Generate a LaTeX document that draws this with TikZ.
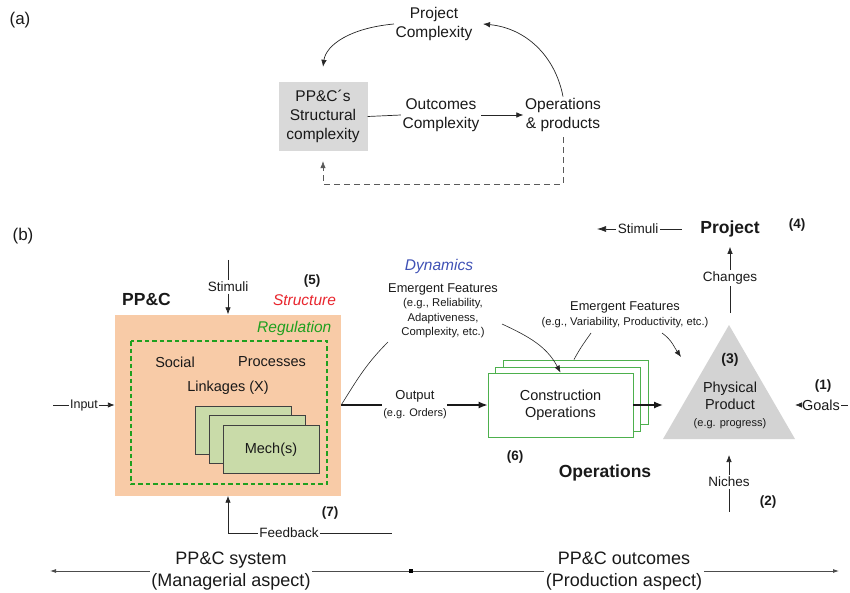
\documentclass[tikz,border=0pt]{standalone}
\usepackage{fontspec}
\setmainfont{Liberation Sans}
\usetikzlibrary{arrows.meta}
\definecolor{orangefill}{HTML}{F8CBA7}
\definecolor{mechfill}{HTML}{C9DBA9}
\definecolor{regreen}{HTML}{1FA01F}
\definecolor{opgreen}{HTML}{4DB04D}
\definecolor{trigray}{HTML}{D3D3D3}
\definecolor{boxgray}{HTML}{D9D9D9}
\definecolor{dynblue}{HTML}{3F51B5}
\definecolor{strred}{HTML}{E8262E}
\begin{document}
\begin{tikzpicture}[x=1pt,y=-1pt,
  every node/.style={inner sep=1.5pt, text=black!90},
  ln/.style={line width=0.7pt, draw=black!85},
  arr/.style={ln, -{Latex[length=7pt,width=5.5pt]}},
  thickarr/.style={line width=1.3pt, draw=black!90, -{Latex[length=9pt,width=7pt]}},
  fa/.style={font=\fontsize{15.5}{19}\selectfont, align=center},
  fl/.style={font=\fontsize{13.5}{16}\selectfont, align=center},
  fm/.style={font=\fontsize{14.5}{17}\selectfont, align=center},
  fs/.style={font=\fontsize{11.3}{14.5}\selectfont, align=center},
  fbold/.style={font=\fontsize{17.5}{21}\selectfont\bfseries},
  fnum/.style={font=\fontsize{13.5}{16}\selectfont\bfseries},
  fbot/.style={font=\fontsize{18}{22}\selectfont, align=center},
  mechbox/.style={draw=black!75, fill=mechfill, line width=0.8pt, minimum width=96pt, minimum height=48pt},
  consbox/.style={draw=opgreen, fill=white, line width=0.9pt, minimum width=145pt, minimum height=64pt},
  botln/.style={line width=0.8pt, draw=black!70},
]
\useasboundingbox (0,0) rectangle (850,593);

% ---------------- (a) ----------------
\node[font=\fontsize{17}{20}\selectfont] (alab) at (20,20) {(a)};
\node[fa] (pc) at (434,24) {Project\\Complexity};
\node[fa, fill=boxgray, minimum width=89pt, minimum height=69pt] (sc) at (323,116.5) {PP\&C´s\\Structural\\complexity};
\node[fa] (oc) at (441,115) {Outcomes\\Complexity};
\node[fa] (op) at (563,115) {Operations\\\& products};
\draw[ln] (sc.east) -- (oc.west);
\draw[arr] (oc.east) -- (op.west);
\draw[arr] (pc.west) .. controls (350,28) and (326,45) .. ([yshift=15pt]sc.north);
\draw[arr] (op.north) .. controls (555,55) and (525,28) .. ([xshift=9pt]pc.east);
\coordinate (dd) at (563,184);
\draw[arr, dashed, draw=black!65, dash pattern=on 6pt off 4pt] ([yshift=-4pt]op.south) -- (dd) -| ([yshift=-10pt]sc.south);

% ---------------- (b) ----------------
\node[font=\fontsize{17}{20}\selectfont] (blab) at (23,236) {(b)};

% PP&C system
\node[fill=orangefill, minimum width=226pt, minimum height=181pt] (ppc) at (228,405) {};
\draw[draw=regreen, line width=1.2pt, dash pattern=on 4.5pt off 3pt] (131,341) rectangle (327,484);
\node[anchor=east, text=regreen, font=\fontsize{15.5}{18}\selectfont\itshape] (regl) at (333,328) {Regulation};
\node[fm] (soc) at (175,362) {Social};
\node[fm] (proc) at (272,362) {Processes};
\node[fm] (link) at (228,388) {Linkages (X)};
\node[mechbox] (m3) at (243,430) {};
\node[mechbox] (m2) at (257,439.5) {};
\node[mechbox, fm] (m1) at (271,449.5) {Mech(s)};

\node[fbold] (ppcl) at (146.5,299) {PP\&C};
\node[fl] (stim) at (228,287) {Stimuli};
\coordinate (stimtop) at (228,260);
\draw[ln] (stimtop) -- (stim.north);
\draw[arr] (stim.south) -- (ppc.north);
\node[fnum] (n5) at (312,281) {(5)};
\node[text=strred, font=\fontsize{15.5}{18}\selectfont\itshape] (struct) at (304.5,300) {Structure};

% Input
\coordinate (inl) at (53,405);
\node[font=\fontsize{12.5}{15}\selectfont, inner sep=0.5pt] (inp) at (84,405) {Input};
\draw[ln] (inl) -- (inp.west);
\draw[arr, line width=0.9pt] (inp.east) -- (ppc.west);

% Construction operations
\node[consbox] (c3) at (575.5,392) {};
\node[consbox] (c2) at (568,399) {};
\node[consbox, fm] (cons) at (560.5,405) {Construction\\Operations};

% Output
\node[font=\fontsize{13}{15}\selectfont] (outp) at (415,396) {Output};
\node[font=\fontsize{11}{13}\selectfont] (outeg) at (415,414) {(e.g. Orders)};
\coordinate (o1) at (382,405);
\coordinate (o2) at (447,405);
\draw[line width=1.3pt, draw=black!90] (ppc.east) -- (o1);
\draw[thickarr] (o2) -- (cons.west);

% Dynamics
\node[text=dynblue, font=\fontsize{15.5}{18}\selectfont\itshape] (dyn) at (439,266) {Dynamics};
\node[font=\fontsize{12.8}{15}\selectfont] (ef1) at (443,289) {Emergent Features};
\node[fs] (ef1eg) at (443,318.5) {(e.g., Reliability,\\Adaptiveness,\\Complexity, etc.)};
\coordinate (d0) at (388,342);
\draw[ln, line width=0.6pt] (ppc.east) to[out=58, in=225] (d0);
\coordinate (d1) at (502,324);
\draw[arr, line width=0.6pt] (d1) to[out=-25, in=118] (cons.north);

% Emergent features of operations
\node[font=\fontsize{12.8}{15}\selectfont] (ef2) at (625,307) {Emergent Features};
\node[font=\fontsize{11.2}{13}\selectfont] (ef2eg) at (625,323) {(e.g., Variability, Productivity, etc.)};
\coordinate (e1) at (591,333);
\draw[ln, line width=0.6pt] (e1) to[out=235, in=62] ([xshift=-1.5pt]c3.north);
\coordinate (e2) at (662,333);
\coordinate (e2t) at (681,357);
\draw[arr, line width=0.6pt] (e2) to[out=-35, in=125] (e2t);

% Physical product triangle
\fill[trigray] (729,325) -- (795,439) -- (663,439) -- cycle;
\coordinate (ctip) at (663,405);
\draw[thickarr] (cons.east) -- (ctip);
\node[font=\fontsize{14}{16}\selectfont\bfseries] (n3) at (730,360) {(3)};
\node[fm] (phys) at (730,396) {Physical\\Product};
\node[font=\fontsize{11}{13}\selectfont] (prog) at (730,424) {(e.g. progress)};

% Project
\node[fbold] (proj) at (730,229) {Project};
\node[fnum] (n4) at (797,225) {(4)};
\node[fl] (chg) at (730,278) {Changes};
\coordinate (trtop) at (730,313);
\draw[ln] (trtop) -- (chg.south);
\draw[arr] (chg.north) -- ([yshift=-8pt]proj.south);
\node[fl] (stim2) at (638,229) {Stimuli};
\coordinate (s2l) at (597,229);
\draw[arr, -{Latex[length=9pt,width=6pt]}] (stim2.west) -- (s2l);
\draw[ln, shorten <=17pt] (proj.west) -- (stim2.east);

% Goals
\node[font=\fontsize{14.5}{17}\selectfont, inner sep=1pt] (goals) at (821,405) {Goals};
\coordinate (gt) at (795,405);
\coordinate (gr) at (848,405);
\draw[arr] (goals.west) -- (gt);
\draw[ln] (goals.east) -- (gr);
\node[fnum] (n1) at (823,386) {(1)};

% Niches
\node[fl] (nich) at (729,482) {Niches};
\coordinate (nt) at (729,455);
\coordinate (nb) at (729,512);
\draw[arr] (nich.north) -- (nt);
\draw[ln] (nich.south) -- (nb);
\node[fnum] (n2) at (768,502) {(2)};

\node[fbold] (opsl) at (605,473) {Operations};
\node[fnum] (n6) at (515,457) {(6)};

% Feedback
\node[fl] (fb) at (289,533) {Feedback};
\coordinate (fbr) at (392,533);
\draw[arr, line width=0.9pt] (fb.west) -| (ppc.south);
\draw[ln] (fb.east) -- (fbr);
\node[fnum] (n7) at (330,513) {(7)};

% Bottom
\node[fbot] (sys) at (231,571) {PP\&C system\\(Managerial aspect)};
\node[fbot] (outc) at (624,571) {PP\&C outcomes\\(Production aspect)};
\coordinate (bl) at (50,571);
\coordinate (br) at (839,571);
\node[fill=black, minimum size=3.5pt, inner sep=0pt] (bm) at (411,571) {};
\draw[botln, -{Latex[length=6pt,width=4pt]}] (sys.west) -- (bl);
\draw[botln] (sys.east) -- (bm);
\draw[botln] (bm) -- (outc.west);
\draw[botln, -{Latex[length=6pt,width=4pt]}] (outc.east) -- (br);
\end{tikzpicture}
\end{document}
